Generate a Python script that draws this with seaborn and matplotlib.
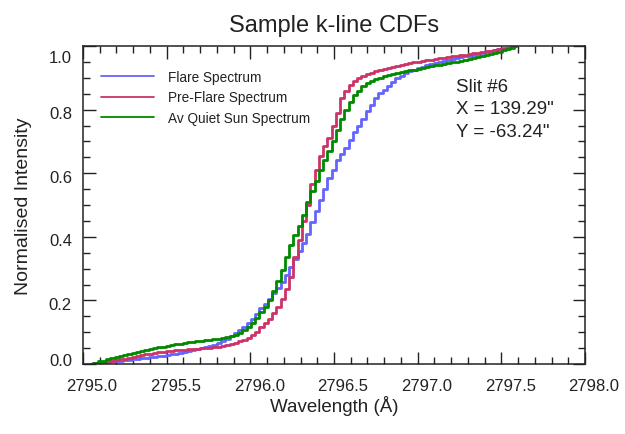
import numpy as np
import pandas as pd
import matplotlib
matplotlib.use("Agg")
import matplotlib.pyplot as plt
import matplotlib.transforms as mtransforms
from matplotlib.lines import Line2D
from matplotlib.ticker import MultipleLocator, FormatStrFormatter
import seaborn as sns

# ---------------- data ----------------
wl_start = 2795.05
wl_step = 0.0254
series_names = ["Flare Spectrum", "Pre-Flare Spectrum", "Av Quiet Sun Spectrum"]
series_colors = ["#6464ff", "#cc3366", "#008a00"]

flare = [
    0.000, 0.002, 0.003, 0.005, 0.006, 0.008, 0.009, 0.011, 0.012, 0.014,
    0.016, 0.017, 0.019, 0.020, 0.022, 0.023, 0.025, 0.026, 0.028, 0.030,
    0.032, 0.034, 0.037, 0.040, 0.043, 0.046, 0.049, 0.052, 0.056, 0.061,
    0.066, 0.072, 0.079, 0.087, 0.097, 0.106, 0.116, 0.128, 0.142, 0.158,
    0.175, 0.190, 0.205, 0.222, 0.240, 0.258, 0.280, 0.305, 0.330, 0.355,
    0.382, 0.410, 0.445, 0.480, 0.515, 0.550, 0.585, 0.610, 0.640, 0.660,
    0.680, 0.705, 0.730, 0.750, 0.770, 0.795, 0.815, 0.835, 0.851, 0.862,
    0.874, 0.886, 0.898, 0.907, 0.914, 0.921, 0.926, 0.930, 0.935, 0.940,
    0.944, 0.946, 0.949, 0.952, 0.955, 0.958, 0.961, 0.964, 0.967, 0.970,
    0.973, 0.976, 0.979, 0.982, 0.985, 0.988, 0.990, 0.993, 0.995, 0.998,
    1.000,
]
pre_flare = [
    0.000, 0.003, 0.005, 0.007, 0.009, 0.011, 0.013, 0.015, 0.017, 0.019,
    0.022, 0.025, 0.027, 0.030, 0.032, 0.035, 0.037, 0.039, 0.040, 0.042,
    0.043, 0.044, 0.045, 0.046, 0.047, 0.048, 0.049, 0.050, 0.051, 0.052,
    0.054, 0.056, 0.059, 0.062, 0.066, 0.071, 0.076, 0.082, 0.090, 0.102,
    0.116, 0.128, 0.143, 0.160, 0.180, 0.205, 0.235, 0.275, 0.335, 0.390,
    0.450, 0.500, 0.565, 0.610, 0.655, 0.685, 0.710, 0.750, 0.790, 0.835,
    0.858, 0.877, 0.889, 0.898, 0.905, 0.911, 0.916, 0.920, 0.924, 0.928,
    0.932, 0.935, 0.938, 0.941, 0.944, 0.947, 0.949, 0.951, 0.953, 0.955,
    0.957, 0.959, 0.961, 0.963, 0.965, 0.967, 0.969, 0.971, 0.973, 0.975,
    0.977, 0.979, 0.981, 0.983, 0.985, 0.987, 0.989, 0.991, 0.994, 0.997,
    1.000,
]
quiet_sun = [
    0.000, 0.004, 0.008, 0.011, 0.015, 0.018, 0.021, 0.025, 0.028, 0.031,
    0.034, 0.037, 0.040, 0.043, 0.046, 0.049, 0.052, 0.055, 0.058, 0.060,
    0.062, 0.064, 0.066, 0.068, 0.070, 0.071, 0.073, 0.075, 0.076, 0.078,
    0.080, 0.082, 0.085, 0.088, 0.092, 0.098, 0.106, 0.116, 0.130, 0.146,
    0.162, 0.178, 0.200, 0.228, 0.260, 0.295, 0.335, 0.375, 0.405, 0.435,
    0.470, 0.510, 0.545, 0.575, 0.610, 0.640, 0.670, 0.700, 0.735, 0.770,
    0.800, 0.825, 0.845, 0.860, 0.873, 0.883, 0.890, 0.896, 0.900, 0.905,
    0.909, 0.912, 0.915, 0.918, 0.921, 0.924, 0.926, 0.929, 0.931, 0.934,
    0.936, 0.939, 0.941, 0.944, 0.946, 0.949, 0.951, 0.954, 0.957, 0.960,
    0.963, 0.966, 0.969, 0.972, 0.975, 0.978, 0.982, 0.986, 0.990, 0.995,
    1.000,
]

x_ticks = [2795.0, 2795.5, 2796.0, 2796.5, 2797.0, 2797.5, 2798.0]
y_ticks = [0.0, 0.2, 0.4, 0.6, 0.8, 1.0]
annotation_lines = ["Slit #6", 'X = 139.29"', 'Y = -63.24"']

# ---------------- build table ----------------
n = len(flare)
wavelength = np.round(wl_start + wl_step * np.arange(n), 4)
df = pd.concat([
    pd.DataFrame({"Wavelength": wavelength, "CDF": vals, "Series": name})
    for name, vals in zip(series_names, [flare, pre_flare, quiet_sun])
], ignore_index=True)

# ---------------- style ----------------
sns.set_theme(style="ticks")
plt.rcParams["font.family"] = ["Liberation Sans", "DejaVu Sans"]
txt_col = "#222222"

fig = plt.figure(figsize=(6.25, 4.35), dpi=100)
ax = fig.add_axes([83 / 625, 1 - 365 / 435, 502 / 625, 318 / 435])

sns.lineplot(data=df, x="Wavelength", y="CDF", hue="Series",
             hue_order=series_names,
             palette=dict(zip(series_names, series_colors)),
             estimator=None, drawstyle="steps-mid", linewidth=2.0,
             legend=False, ax=ax)

ax.set_xlim(2795.0, 2798.0)
ax.set_ylim(0.0, 1.0)
ax.set_xticks(x_ticks)
ax.set_yticks(y_ticks)
ax.xaxis.set_major_formatter(FormatStrFormatter("%.1f"))
ax.yaxis.set_major_formatter(FormatStrFormatter("%.1f"))
ax.xaxis.set_minor_locator(MultipleLocator(0.1))
ax.yaxis.set_minor_locator(MultipleLocator(0.05))
ax.tick_params(which="both", direction="in", top=True, right=True,
               colors=txt_col, labelcolor=txt_col, width=1.0)
ax.tick_params(which="major", length=9, labelsize=12)
ax.tick_params(which="minor", length=5)
ax.tick_params(axis="x", which="major", pad=10)
ax.tick_params(axis="y", which="major", pad=8)
for s in ax.spines.values():
    s.set_color(txt_col)
    s.set_linewidth(1.1)

# IDL-like tick label placement: x labels sit a little right of their ticks,
# y labels slightly below, with the end labels pulled inside the axis range.
for tick in ax.xaxis.get_major_ticks():
    off = mtransforms.ScaledTranslation(9 / 100, 0, fig.dpi_scale_trans)
    tick.label1.set_transform(tick.label1.get_transform() + off)
y_shift = {0.0: 5, 1.0: -10}
for tick, val in zip(ax.yaxis.get_major_ticks(), y_ticks):
    dy = y_shift.get(val, -2.5)
    off = mtransforms.ScaledTranslation(0, dy / 100, fig.dpi_scale_trans)
    tick.label1.set_transform(tick.label1.get_transform() + off)

ax.set_xlabel("Wavelength (Å)", fontsize=13.5, color=txt_col, labelpad=1.5)
ax.set_ylabel("Normalised Intensity", fontsize=14, color=txt_col, labelpad=12)
ax.set_title("Sample k-line CDFs", fontsize=17, color=txt_col, pad=11)

handles = [Line2D([0], [0], color=c, lw=1.3) for c in series_colors]
leg = ax.legend(handles, series_names, loc="upper left",
                bbox_to_anchor=(0.036, 0.926), frameon=False,
                fontsize=9.8, handlelength=3.9, handletextpad=1.0,
                labelspacing=0.5, borderaxespad=0, borderpad=0)
for t in leg.get_texts():
    t.set_color(txt_col)

for i, line in enumerate(annotation_lines):
    ax.text(0.744, 0.872 - i * 0.070, line, transform=ax.transAxes,
            fontsize=13.5, color=txt_col, va="center", ha="left")

fig.savefig("out.png", dpi=100, facecolor="white")
